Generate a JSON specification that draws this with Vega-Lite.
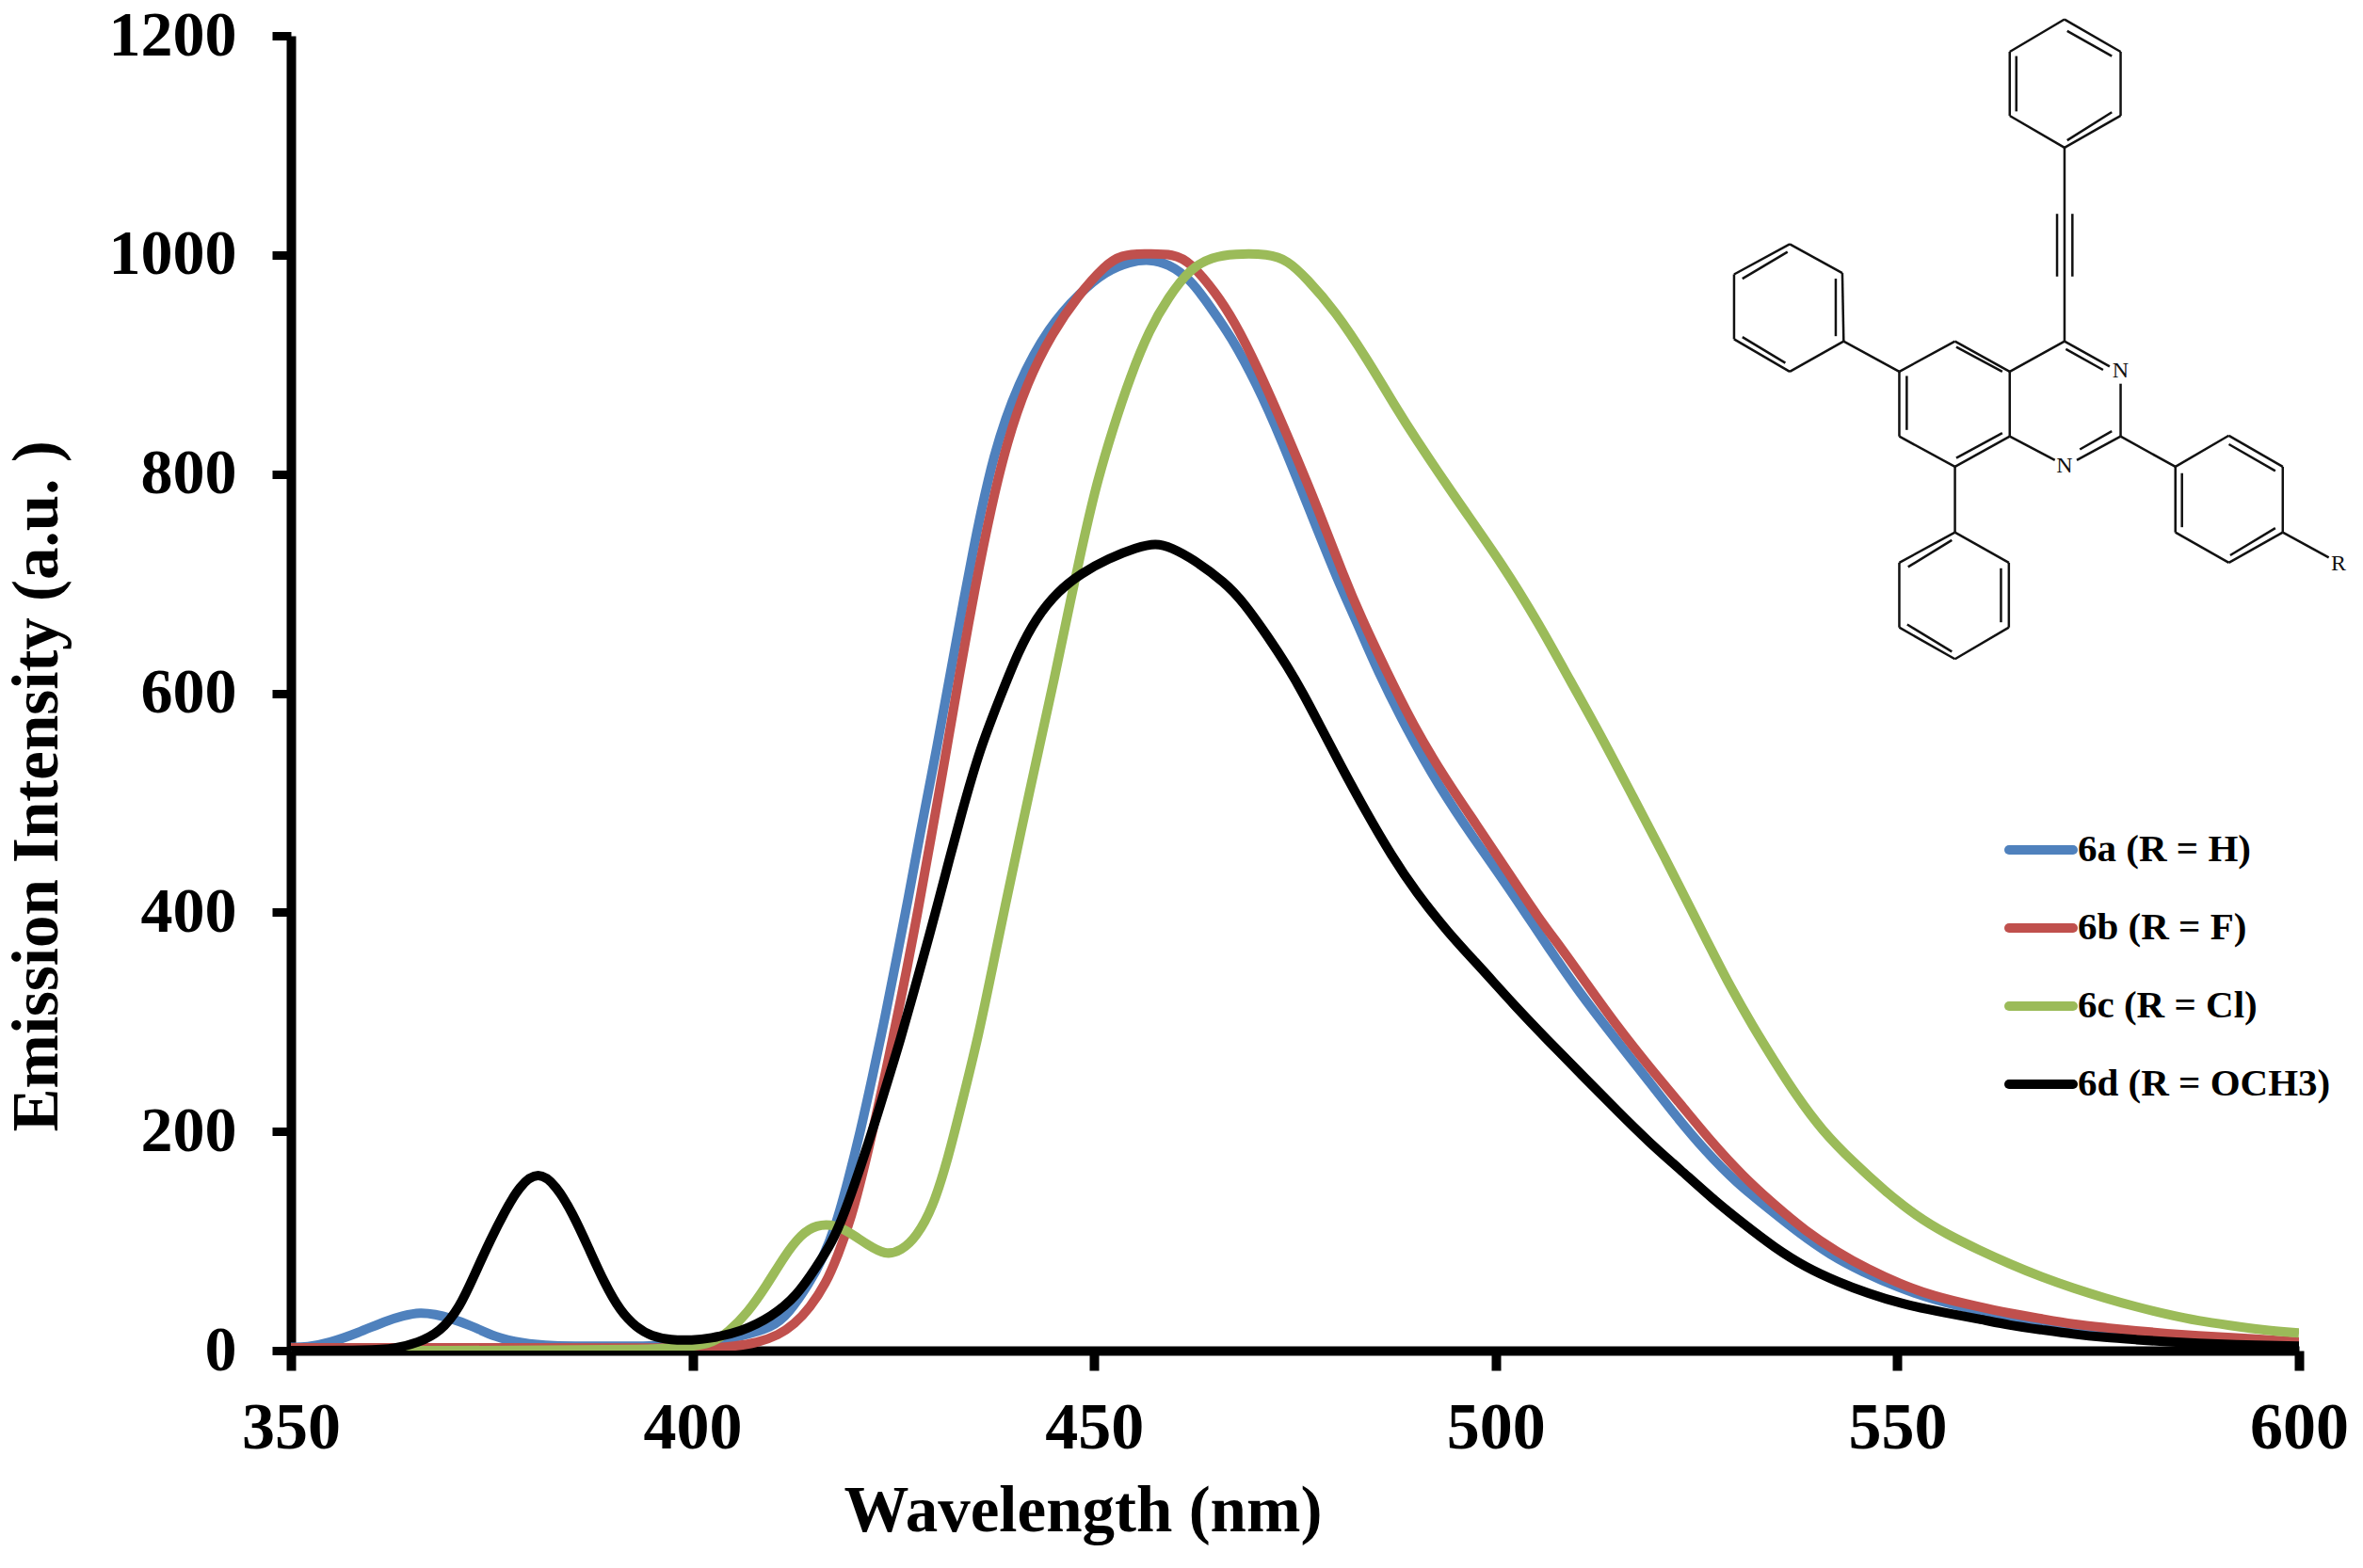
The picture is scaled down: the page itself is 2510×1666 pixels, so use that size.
{
  "$schema": "https://vega.github.io/schema/vega-lite/v6.json",
  "width": 2133,
  "height": 1397,
  "autosize": "none",
  "padding": {"left": 309, "top": 38, "right": 68, "bottom": 231},
  "background": "white",
  "config": {"view": {"stroke": "transparent"}, "font": "Liberation Serif"},
  "datasets": {
    "curves": [
      {"wavelength":350,"intensity":3,"series":"6a (R = H)"},{"wavelength":352,"intensity":3,"series":"6a (R = H)"},{"wavelength":354.8,"intensity":7,"series":"6a (R = H)"},{"wavelength":358.3,"intensity":16,"series":"6a (R = H)"},{"wavelength":361.8,"intensity":27,"series":"6a (R = H)"},{"wavelength":364,"intensity":32,"series":"6a (R = H)"},{"wavelength":366.1,"intensity":35,"series":"6a (R = H)"},{"wavelength":368,"intensity":33,"series":"6a (R = H)"},{"wavelength":369.7,"intensity":30,"series":"6a (R = H)"},{"wavelength":372.4,"intensity":23,"series":"6a (R = H)"},{"wavelength":375.5,"intensity":12,"series":"6a (R = H)"},{"wavelength":378.7,"intensity":7,"series":"6a (R = H)"},{"wavelength":382,"intensity":4,"series":"6a (R = H)"},{"wavelength":390,"intensity":4,"series":"6a (R = H)"},{"wavelength":395,"intensity":4,"series":"6a (R = H)"},{"wavelength":398,"intensity":6,"series":"6a (R = H)"},{"wavelength":402.1,"intensity":8,"series":"6a (R = H)"},{"wavelength":406,"intensity":13,"series":"6a (R = H)"},{"wavelength":409.9,"intensity":21,"series":"6a (R = H)"},{"wavelength":411.9,"intensity":33,"series":"6a (R = H)"},{"wavelength":414.6,"intensity":62,"series":"6a (R = H)"},{"wavelength":416.2,"intensity":84,"series":"6a (R = H)"},{"wavelength":417.8,"intensity":113,"series":"6a (R = H)"},{"wavelength":419.3,"intensity":153,"series":"6a (R = H)"},{"wavelength":420.9,"intensity":200,"series":"6a (R = H)"},{"wavelength":422.4,"intensity":250,"series":"6a (R = H)"},{"wavelength":424,"intensity":305,"series":"6a (R = H)"},{"wavelength":425.4,"intensity":358,"series":"6a (R = H)"},{"wavelength":426.8,"intensity":410,"series":"6a (R = H)"},{"wavelength":428.3,"intensity":471,"series":"6a (R = H)"},{"wavelength":430.3,"intensity":545,"series":"6a (R = H)"},{"wavelength":432,"intensity":614,"series":"6a (R = H)"},{"wavelength":435,"intensity":735,"series":"6a (R = H)"},{"wavelength":437.5,"intensity":820,"series":"6a (R = H)"},{"wavelength":440.5,"intensity":883,"series":"6a (R = H)"},{"wavelength":444.4,"intensity":935,"series":"6a (R = H)"},{"wavelength":448.3,"intensity":966,"series":"6a (R = H)"},{"wavelength":451.4,"intensity":985,"series":"6a (R = H)"},{"wavelength":454.5,"intensity":994,"series":"6a (R = H)"},{"wavelength":456.9,"intensity":996,"series":"6a (R = H)"},{"wavelength":459.2,"intensity":992,"series":"6a (R = H)"},{"wavelength":462,"intensity":978,"series":"6a (R = H)"},{"wavelength":464.7,"intensity":950,"series":"6a (R = H)"},{"wavelength":467,"intensity":926,"series":"6a (R = H)"},{"wavelength":470.2,"intensity":883,"series":"6a (R = H)"},{"wavelength":473.3,"intensity":832,"series":"6a (R = H)"},{"wavelength":477.2,"intensity":760,"series":"6a (R = H)"},{"wavelength":480.5,"intensity":700,"series":"6a (R = H)"},{"wavelength":482.7,"intensity":665,"series":"6a (R = H)"},{"wavelength":485.3,"intensity":620,"series":"6a (R = H)"},{"wavelength":489,"intensity":566,"series":"6a (R = H)"},{"wavelength":493,"intensity":514,"series":"6a (R = H)"},{"wavelength":497.2,"intensity":468,"series":"6a (R = H)"},{"wavelength":501.1,"intensity":428,"series":"6a (R = H)"},{"wavelength":505,"intensity":385,"series":"6a (R = H)"},{"wavelength":507.3,"intensity":360,"series":"6a (R = H)"},{"wavelength":510.4,"intensity":327,"series":"6a (R = H)"},{"wavelength":514.4,"intensity":289,"series":"6a (R = H)"},{"wavelength":518.3,"intensity":253,"series":"6a (R = H)"},{"wavelength":522.2,"intensity":216,"series":"6a (R = H)"},{"wavelength":526.1,"intensity":182,"series":"6a (R = H)"},{"wavelength":530,"intensity":153,"series":"6a (R = H)"},{"wavelength":533.9,"intensity":130,"series":"6a (R = H)"},{"wavelength":537.8,"intensity":107,"series":"6a (R = H)"},{"wavelength":541.7,"intensity":87,"series":"6a (R = H)"},{"wavelength":545.6,"intensity":72,"series":"6a (R = H)"},{"wavelength":550.3,"intensity":57,"series":"6a (R = H)"},{"wavelength":554.3,"intensity":47,"series":"6a (R = H)"},{"wavelength":560.1,"intensity":36,"series":"6a (R = H)"},{"wavelength":570,"intensity":23,"series":"6a (R = H)"},{"wavelength":580,"intensity":14,"series":"6a (R = H)"},{"wavelength":590,"intensity":9,"series":"6a (R = H)"},{"wavelength":600,"intensity":6,"series":"6a (R = H)"},

      {"wavelength":350,"intensity":2.5,"series":"6b (R = F)"},{"wavelength":375,"intensity":2.5,"series":"6b (R = F)"},{"wavelength":398,"intensity":2.5,"series":"6b (R = F)"},{"wavelength":402.1,"intensity":2,"series":"6b (R = F)"},{"wavelength":405.2,"intensity":4,"series":"6b (R = F)"},{"wavelength":408,"intensity":7,"series":"6b (R = F)"},{"wavelength":410.7,"intensity":14,"series":"6b (R = F)"},{"wavelength":412.7,"intensity":24,"series":"6b (R = F)"},{"wavelength":414.6,"intensity":39,"series":"6b (R = F)"},{"wavelength":416.6,"intensity":61,"series":"6b (R = F)"},{"wavelength":418.1,"intensity":87,"series":"6b (R = F)"},{"wavelength":419.7,"intensity":119,"series":"6b (R = F)"},{"wavelength":421.7,"intensity":176,"series":"6b (R = F)"},{"wavelength":423.6,"intensity":239,"series":"6b (R = F)"},{"wavelength":424.8,"intensity":280,"series":"6b (R = F)"},{"wavelength":426.8,"intensity":352,"series":"6b (R = F)"},{"wavelength":428.1,"intensity":403,"series":"6b (R = F)"},{"wavelength":429.7,"intensity":468,"series":"6b (R = F)"},{"wavelength":431.5,"intensity":543,"series":"6b (R = F)"},{"wavelength":433.1,"intensity":612,"series":"6b (R = F)"},{"wavelength":435.2,"intensity":698,"series":"6b (R = F)"},{"wavelength":437.25,"intensity":772,"series":"6b (R = F)"},{"wavelength":439.1,"intensity":828,"series":"6b (R = F)"},{"wavelength":441.6,"intensity":883,"series":"6b (R = F)"},{"wavelength":444.8,"intensity":929,"series":"6b (R = F)"},{"wavelength":447.9,"intensity":962,"series":"6b (R = F)"},{"wavelength":451.4,"intensity":991,"series":"6b (R = F)"},{"wavelength":453.4,"intensity":1000,"series":"6b (R = F)"},{"wavelength":456.1,"intensity":1001,"series":"6b (R = F)"},{"wavelength":460,"intensity":1001,"series":"6b (R = F)"},{"wavelength":462,"intensity":993,"series":"6b (R = F)"},{"wavelength":465.1,"intensity":966,"series":"6b (R = F)"},{"wavelength":467.4,"intensity":940,"series":"6b (R = F)"},{"wavelength":470.2,"intensity":900,"series":"6b (R = F)"},{"wavelength":474.1,"intensity":835,"series":"6b (R = F)"},{"wavelength":478,"intensity":766,"series":"6b (R = F)"},{"wavelength":481,"intensity":708,"series":"6b (R = F)"},{"wavelength":483.3,"intensity":668,"series":"6b (R = F)"},{"wavelength":486.4,"intensity":620,"series":"6b (R = F)"},{"wavelength":489.7,"intensity":571,"series":"6b (R = F)"},{"wavelength":493.6,"intensity":523,"series":"6b (R = F)"},{"wavelength":497.6,"intensity":480,"series":"6b (R = F)"},{"wavelength":501.5,"intensity":437,"series":"6b (R = F)"},{"wavelength":505.4,"intensity":394,"series":"6b (R = F)"},{"wavelength":508.1,"intensity":368,"series":"6b (R = F)"},{"wavelength":511.2,"intensity":336,"series":"6b (R = F)"},{"wavelength":515.1,"intensity":296,"series":"6b (R = F)"},{"wavelength":519.1,"intensity":259,"series":"6b (R = F)"},{"wavelength":523,"intensity":225,"series":"6b (R = F)"},{"wavelength":526.9,"intensity":190,"series":"6b (R = F)"},{"wavelength":530.8,"intensity":159,"series":"6b (R = F)"},{"wavelength":534.7,"intensity":133,"series":"6b (R = F)"},{"wavelength":538.6,"intensity":109,"series":"6b (R = F)"},{"wavelength":542.5,"intensity":90,"series":"6b (R = F)"},{"wavelength":546.4,"intensity":74,"series":"6b (R = F)"},{"wavelength":550.3,"intensity":61,"series":"6b (R = F)"},{"wavelength":554.3,"intensity":50,"series":"6b (R = F)"},{"wavelength":560.1,"intensity":40,"series":"6b (R = F)"},{"wavelength":564,"intensity":34,"series":"6b (R = F)"},{"wavelength":568,"intensity":29,"series":"6b (R = F)"},{"wavelength":571.9,"intensity":24,"series":"6b (R = F)"},{"wavelength":575.8,"intensity":21,"series":"6b (R = F)"},{"wavelength":579.7,"intensity":18,"series":"6b (R = F)"},{"wavelength":583.6,"intensity":15.5,"series":"6b (R = F)"},{"wavelength":587.5,"intensity":13.5,"series":"6b (R = F)"},{"wavelength":591.4,"intensity":12,"series":"6b (R = F)"},{"wavelength":600,"intensity":8,"series":"6b (R = F)"},

      {"wavelength":350,"intensity":0,"series":"6c (R = Cl)"},{"wavelength":380,"intensity":0,"series":"6c (R = Cl)"},{"wavelength":395,"intensity":1,"series":"6c (R = Cl)"},{"wavelength":398.2,"intensity":3,"series":"6c (R = Cl)"},{"wavelength":402.1,"intensity":5,"series":"6c (R = Cl)"},{"wavelength":404.5,"intensity":17,"series":"6c (R = Cl)"},{"wavelength":406.8,"intensity":34,"series":"6c (R = Cl)"},{"wavelength":409.2,"intensity":59,"series":"6c (R = Cl)"},{"wavelength":411.5,"intensity":87,"series":"6c (R = Cl)"},{"wavelength":413.5,"intensity":106,"series":"6c (R = Cl)"},{"wavelength":415.4,"intensity":115,"series":"6c (R = Cl)"},{"wavelength":417.8,"intensity":115,"series":"6c (R = Cl)"},{"wavelength":419.7,"intensity":107,"series":"6c (R = Cl)"},{"wavelength":421.7,"intensity":97,"series":"6c (R = Cl)"},{"wavelength":424,"intensity":87,"series":"6c (R = Cl)"},{"wavelength":426,"intensity":91,"series":"6c (R = Cl)"},{"wavelength":427.9,"intensity":104,"series":"6c (R = Cl)"},{"wavelength":429.9,"intensity":130,"series":"6c (R = Cl)"},{"wavelength":431.8,"intensity":175,"series":"6c (R = Cl)"},{"wavelength":433.4,"intensity":222,"series":"6c (R = Cl)"},{"wavelength":435.6,"intensity":287,"series":"6c (R = Cl)"},{"wavelength":437.3,"intensity":348,"series":"6c (R = Cl)"},{"wavelength":438.9,"intensity":405,"series":"6c (R = Cl)"},{"wavelength":440.8,"intensity":471,"series":"6c (R = Cl)"},{"wavelength":443.2,"intensity":552,"series":"6c (R = Cl)"},{"wavelength":445.1,"intensity":615,"series":"6c (R = Cl)"},{"wavelength":446.7,"intensity":672,"series":"6c (R = Cl)"},{"wavelength":448.3,"intensity":727,"series":"6c (R = Cl)"},{"wavelength":450.2,"intensity":789,"series":"6c (R = Cl)"},{"wavelength":452.4,"intensity":843,"series":"6c (R = Cl)"},{"wavelength":454.5,"intensity":889,"series":"6c (R = Cl)"},{"wavelength":456.9,"intensity":932,"series":"6c (R = Cl)"},{"wavelength":459.2,"intensity":961,"series":"6c (R = Cl)"},{"wavelength":462,"intensity":988,"series":"6c (R = Cl)"},{"wavelength":464.7,"intensity":998,"series":"6c (R = Cl)"},{"wavelength":467.4,"intensity":1001,"series":"6c (R = Cl)"},{"wavelength":471.7,"intensity":1001,"series":"6c (R = Cl)"},{"wavelength":474.1,"intensity":995,"series":"6c (R = Cl)"},{"wavelength":476.4,"intensity":979,"series":"6c (R = Cl)"},{"wavelength":480,"intensity":949,"series":"6c (R = Cl)"},{"wavelength":483.9,"intensity":906,"series":"6c (R = Cl)"},{"wavelength":487.8,"intensity":858,"series":"6c (R = Cl)"},{"wavelength":489.7,"intensity":836,"series":"6c (R = Cl)"},{"wavelength":495,"intensity":778,"series":"6c (R = Cl)"},{"wavelength":500.9,"intensity":717,"series":"6c (R = Cl)"},{"wavelength":505.4,"intensity":663,"series":"6c (R = Cl)"},{"wavelength":509.3,"intensity":611,"series":"6c (R = Cl)"},{"wavelength":513.2,"intensity":560,"series":"6c (R = Cl)"},{"wavelength":517.1,"intensity":505,"series":"6c (R = Cl)"},{"wavelength":521,"intensity":451,"series":"6c (R = Cl)"},{"wavelength":524.9,"intensity":394,"series":"6c (R = Cl)"},{"wavelength":526.7,"intensity":368,"series":"6c (R = Cl)"},{"wavelength":529.2,"intensity":332,"series":"6c (R = Cl)"},{"wavelength":532,"intensity":296,"series":"6c (R = Cl)"},{"wavelength":534.7,"intensity":264,"series":"6c (R = Cl)"},{"wavelength":537.4,"intensity":233,"series":"6c (R = Cl)"},{"wavelength":540.6,"intensity":201,"series":"6c (R = Cl)"},{"wavelength":544.5,"intensity":172,"series":"6c (R = Cl)"},{"wavelength":548.4,"intensity":146,"series":"6c (R = Cl)"},{"wavelength":552.3,"intensity":123,"series":"6c (R = Cl)"},{"wavelength":556.2,"intensity":106,"series":"6c (R = Cl)"},{"wavelength":560.1,"intensity":92,"series":"6c (R = Cl)"},{"wavelength":564,"intensity":79,"series":"6c (R = Cl)"},{"wavelength":568,"intensity":67,"series":"6c (R = Cl)"},{"wavelength":571.9,"intensity":57,"series":"6c (R = Cl)"},{"wavelength":575.8,"intensity":48,"series":"6c (R = Cl)"},{"wavelength":579.7,"intensity":40,"series":"6c (R = Cl)"},{"wavelength":583.6,"intensity":33,"series":"6c (R = Cl)"},{"wavelength":587.5,"intensity":27,"series":"6c (R = Cl)"},{"wavelength":591.4,"intensity":23,"series":"6c (R = Cl)"},{"wavelength":595.3,"intensity":19,"series":"6c (R = Cl)"},{"wavelength":600,"intensity":16,"series":"6c (R = Cl)"},

      {"wavelength":350,"intensity":0,"series":"6d (R = OCH3)"},{"wavelength":360,"intensity":0,"series":"6d (R = OCH3)"},{"wavelength":363,"intensity":2,"series":"6d (R = OCH3)"},{"wavelength":365.8,"intensity":7,"series":"6d (R = OCH3)"},{"wavelength":368.6,"intensity":17,"series":"6d (R = OCH3)"},{"wavelength":371,"intensity":39,"series":"6d (R = OCH3)"},{"wavelength":372.9,"intensity":70,"series":"6d (R = OCH3)"},{"wavelength":374.9,"intensity":102,"series":"6d (R = OCH3)"},{"wavelength":376.5,"intensity":125,"series":"6d (R = OCH3)"},{"wavelength":378.5,"intensity":151,"series":"6d (R = OCH3)"},{"wavelength":380.8,"intensity":164,"series":"6d (R = OCH3)"},{"wavelength":383,"intensity":151,"series":"6d (R = OCH3)"},{"wavelength":385.1,"intensity":125,"series":"6d (R = OCH3)"},{"wavelength":387.1,"intensity":93,"series":"6d (R = OCH3)"},{"wavelength":389,"intensity":62,"series":"6d (R = OCH3)"},{"wavelength":391,"intensity":36,"series":"6d (R = OCH3)"},{"wavelength":393,"intensity":21,"series":"6d (R = OCH3)"},{"wavelength":394.9,"intensity":13,"series":"6d (R = OCH3)"},{"wavelength":397.3,"intensity":9.5,"series":"6d (R = OCH3)"},{"wavelength":400,"intensity":9.5,"series":"6d (R = OCH3)"},{"wavelength":402.1,"intensity":11,"series":"6d (R = OCH3)"},{"wavelength":406,"intensity":17,"series":"6d (R = OCH3)"},{"wavelength":409.9,"intensity":31,"series":"6d (R = OCH3)"},{"wavelength":413,"intensity":50,"series":"6d (R = OCH3)"},{"wavelength":415.4,"intensity":76,"series":"6d (R = OCH3)"},{"wavelength":417.4,"intensity":99,"series":"6d (R = OCH3)"},{"wavelength":418.9,"intensity":125,"series":"6d (R = OCH3)"},{"wavelength":420.9,"intensity":167,"series":"6d (R = OCH3)"},{"wavelength":422.8,"intensity":210,"series":"6d (R = OCH3)"},{"wavelength":424.8,"intensity":258,"series":"6d (R = OCH3)"},{"wavelength":425.8,"intensity":282,"series":"6d (R = OCH3)"},{"wavelength":427.5,"intensity":326,"series":"6d (R = OCH3)"},{"wavelength":429.5,"intensity":379,"series":"6d (R = OCH3)"},{"wavelength":431.5,"intensity":435,"series":"6d (R = OCH3)"},{"wavelength":433.4,"intensity":488,"series":"6d (R = OCH3)"},{"wavelength":435.8,"intensity":550,"series":"6d (R = OCH3)"},{"wavelength":438.5,"intensity":600,"series":"6d (R = OCH3)"},{"wavelength":440.5,"intensity":637,"series":"6d (R = OCH3)"},{"wavelength":442.8,"intensity":669,"series":"6d (R = OCH3)"},{"wavelength":445.5,"intensity":693,"series":"6d (R = OCH3)"},{"wavelength":448.3,"intensity":709,"series":"6d (R = OCH3)"},{"wavelength":451.8,"intensity":723,"series":"6d (R = OCH3)"},{"wavelength":455.3,"intensity":733,"series":"6d (R = OCH3)"},{"wavelength":457.7,"intensity":737,"series":"6d (R = OCH3)"},{"wavelength":459.6,"intensity":733,"series":"6d (R = OCH3)"},{"wavelength":462.4,"intensity":722,"series":"6d (R = OCH3)"},{"wavelength":466.3,"intensity":701,"series":"6d (R = OCH3)"},{"wavelength":468.6,"intensity":683,"series":"6d (R = OCH3)"},{"wavelength":471.7,"intensity":651,"series":"6d (R = OCH3)"},{"wavelength":474.1,"intensity":624,"series":"6d (R = OCH3)"},{"wavelength":476,"intensity":600,"series":"6d (R = OCH3)"},{"wavelength":478,"intensity":572,"series":"6d (R = OCH3)"},{"wavelength":480.7,"intensity":534,"series":"6d (R = OCH3)"},{"wavelength":483.9,"intensity":491,"series":"6d (R = OCH3)"},{"wavelength":487,"intensity":452,"series":"6d (R = OCH3)"},{"wavelength":490.1,"intensity":418,"series":"6d (R = OCH3)"},{"wavelength":494,"intensity":382,"series":"6d (R = OCH3)"},{"wavelength":498.3,"intensity":348,"series":"6d (R = OCH3)"},{"wavelength":502.2,"intensity":316,"series":"6d (R = OCH3)"},{"wavelength":506.5,"intensity":283,"series":"6d (R = OCH3)"},{"wavelength":511.2,"intensity":248,"series":"6d (R = OCH3)"},{"wavelength":515.1,"intensity":219,"series":"6d (R = OCH3)"},{"wavelength":519.1,"intensity":190,"series":"6d (R = OCH3)"},{"wavelength":523,"intensity":165,"series":"6d (R = OCH3)"},{"wavelength":526.9,"intensity":139,"series":"6d (R = OCH3)"},{"wavelength":530.8,"intensity":116,"series":"6d (R = OCH3)"},{"wavelength":534.7,"intensity":94,"series":"6d (R = OCH3)"},{"wavelength":538.6,"intensity":76,"series":"6d (R = OCH3)"},{"wavelength":542.5,"intensity":63,"series":"6d (R = OCH3)"},{"wavelength":546.4,"intensity":52,"series":"6d (R = OCH3)"},{"wavelength":550.3,"intensity":43,"series":"6d (R = OCH3)"},{"wavelength":556.2,"intensity":34,"series":"6d (R = OCH3)"},{"wavelength":560.1,"intensity":29,"series":"6d (R = OCH3)"},{"wavelength":564,"intensity":23,"series":"6d (R = OCH3)"},{"wavelength":568,"intensity":19,"series":"6d (R = OCH3)"},{"wavelength":571.9,"intensity":15,"series":"6d (R = OCH3)"},{"wavelength":575.8,"intensity":12,"series":"6d (R = OCH3)"},{"wavelength":579.7,"intensity":10,"series":"6d (R = OCH3)"},{"wavelength":583.6,"intensity":8,"series":"6d (R = OCH3)"},{"wavelength":587.5,"intensity":6.6,"series":"6d (R = OCH3)"},{"wavelength":591.4,"intensity":5.5,"series":"6d (R = OCH3)"},{"wavelength":600,"intensity":4,"series":"6d (R = OCH3)"}
    ],
    "bonds": [
      {"ax":887,"ay":45,"bx":1015,"by":120},{"ax":1015,"ay":120,"bx":1015,"by":268},{"ax":1015,"ay":268,"bx":887,"by":342},{"ax":887,"ay":342,"bx":762,"by":268},{"ax":762,"ay":268,"bx":762,"by":120},{"ax":762,"ay":120,"bx":887,"by":45},
      {"ax":893,"ay":72,"bx":995,"by":130},{"ax":777,"ay":130,"bx":777,"by":258},{"ax":893,"ay":325,"bx":995,"by":260},
      {"ax":887,"ay":342,"bx":887,"by":790},{"ax":870,"ay":495,"bx":870,"by":640},{"ax":905,"ay":495,"bx":905,"by":640},
      {"ax":887,"ay":790,"bx":990,"by":848},{"ax":890,"ay":808,"bx":975,"by":856},{"ax":1015,"ay":888,"bx":1015,"by":1010},{"ax":1015,"ay":1010,"bx":915,"by":1065},{"ax":995,"ay":998,"bx":922,"by":1040},{"ax":865,"ay":1065,"bx":762,"by":1010},{"ax":762,"ay":1010,"bx":762,"by":860},{"ax":762,"ay":860,"bx":887,"by":790},
      {"ax":762,"ay":860,"bx":637,"by":790},{"ax":745,"ay":860,"bx":640,"by":803},{"ax":637,"ay":790,"bx":510,"by":860},{"ax":510,"ay":860,"bx":510,"by":1010},{"ax":527,"ay":870,"bx":527,"by":995},{"ax":510,"ay":1010,"bx":637,"by":1080},{"ax":637,"ay":1080,"bx":762,"by":1010},{"ax":640,"ay":1060,"bx":745,"by":1002},
      {"ax":510,"ay":860,"bx":383,"by":790},{"ax":383,"ay":790,"bx":380,"by":632},{"ax":380,"ay":632,"bx":260,"by":565},{"ax":260,"ay":565,"bx":133,"by":635},{"ax":133,"ay":635,"bx":133,"by":785},{"ax":133,"ay":785,"bx":260,"by":860},{"ax":260,"ay":860,"bx":383,"by":790},
      {"ax":365,"ay":645,"bx":365,"by":778},{"ax":255,"ay":583,"bx":152,"by":645},{"ax":152,"ay":780,"bx":250,"by":840},
      {"ax":637,"ay":1080,"bx":637,"by":1232},{"ax":637,"ay":1232,"bx":760,"by":1302},{"ax":760,"ay":1302,"bx":760,"by":1452},{"ax":760,"ay":1452,"bx":637,"by":1525},{"ax":637,"ay":1525,"bx":510,"by":1452},{"ax":510,"ay":1452,"bx":510,"by":1302},{"ax":510,"ay":1302,"bx":637,"by":1232},
      {"ax":630,"ay":1250,"bx":530,"by":1312},{"ax":742,"ay":1315,"bx":742,"by":1440},{"ax":630,"ay":1508,"bx":528,"by":1445},
      {"ax":1015,"ay":1010,"bx":1140,"by":1080},{"ax":1140,"ay":1080,"bx":1262,"by":1008},{"ax":1262,"ay":1008,"bx":1385,"by":1080},{"ax":1385,"ay":1080,"bx":1385,"by":1232},{"ax":1385,"ay":1232,"bx":1262,"by":1302},{"ax":1262,"ay":1302,"bx":1140,"by":1232},{"ax":1140,"ay":1232,"bx":1140,"by":1080},
      {"ax":1262,"ay":1028,"bx":1368,"by":1090},{"ax":1155,"ay":1095,"bx":1155,"by":1220},{"ax":1368,"ay":1222,"bx":1265,"by":1285},
      {"ax":1385,"ay":1232,"bx":1490,"by":1290}
    ],
    "atoms": [
      {"ax":1015,"ay":858,"label":"N"},
      {"ax":887,"ay":1078,"label":"N"},
      {"ax":1512,"ay":1305,"label":"R"}
    ]
  },
  "layer": [
    {
      "data": {"name": "curves"},
      "mark": {"type": "line", "interpolate": "basis", "clip": true},
      "encoding": {
        "x": {
          "field": "wavelength",
          "type": "quantitative",
          "scale": {"domain": [350, 600], "nice": false, "zero": false},
          "axis": {
            "values": [350, 400, 450, 500, 550, 600],
            "format": "d",
            "grid": false,
            "domainColor": "black",
            "domainWidth": 10,
            "tickColor": "black",
            "tickWidth": 10,
            "tickSize": 21,
            "labelFont": "Liberation Serif",
            "labelFontWeight": "bold",
            "labelFontSize": 70,
            "labelColor": "black",
            "labelPadding": 27,
            "labelFlush": false,
            "labelOverlap": false,
            "title": "Wavelength (nm)",
            "titleFont": "Liberation Serif",
            "titleFontWeight": "bold",
            "titleFontSize": 69,
            "titleColor": "black",
            "titleX": 841,
            "titleY": 191,
            "titleAlign": "center",
            "titleBaseline": "alphabetic"
          }
        },
        "y": {
          "field": "intensity",
          "type": "quantitative",
          "scale": {"domain": [0, 1200], "nice": false},
          "axis": {
            "values": [0, 200, 400, 600, 800, 1000, 1200],
            "format": "d",
            "grid": false,
            "domainColor": "black",
            "domainWidth": 10,
            "tickColor": "black",
            "tickWidth": 9,
            "tickSize": 20,
            "labelFont": "Liberation Serif",
            "labelFontWeight": "bold",
            "labelFontSize": 68,
            "labelColor": "black",
            "labelPadding": 38,
            "labelFlush": false,
            "labelOverlap": false,
            "title": "Emission Intensity (a.u. )",
            "titleFont": "Liberation Serif",
            "titleFontWeight": "bold",
            "titleFontSize": 69,
            "titleColor": "black",
            "titleX": -249,
            "titleY": 797,
            "titleAlign": "center",
            "titleBaseline": "alphabetic",
            "titleAngle": -90
          }
        },
        "strokeWidth": {
          "field": "series",
          "type": "nominal",
          "scale": {
            "domain": ["6a (R = H)", "6b (R = F)", "6c (R = Cl)", "6d (R = OCH3)"],
            "range": [10, 10, 9, 8]
          },
          "legend": null
        },
        "color": {
          "field": "series",
          "type": "nominal",
          "scale": {
            "domain": ["6a (R = H)", "6b (R = F)", "6c (R = Cl)", "6d (R = OCH3)"],
            "range": ["#4F81BD", "#C0504D", "#9BBB59", "#000000"]
          },
          "legend": {
            "orient": "none",
            "legendX": 1820,
            "legendY": 826,
            "padding": 0,
            "title": null,
            "symbolType": "stroke",
            "symbolSize": 4624,
            "symbolStrokeWidth": 10,
            "labelFont": "Liberation Serif",
            "labelFontWeight": "bold",
            "labelFontSize": 41,
            "labelColor": "black",
            "labelOffset": 0,
            "labelLimit": 400,
            "rowPadding": 24,
            "encode": {"symbols": {"update": {"strokeCap": {"value": "round"}}}}
          }
        }
      }
    },
    {
      "data": {"name": "bonds"},
      "mark": {"type": "rule", "color": "#111111", "strokeWidth": 2.5},
      "encoding": {
        "x": {"field": "ax", "type": "quantitative", "scale": {"domain": [-3160, 1422], "nice": false, "zero": false}, "axis": null},
        "x2": {"field": "bx"},
        "y": {"field": "ay", "type": "quantitative", "scale": {"domain": [3125, 83], "nice": false, "zero": false}, "axis": null},
        "y2": {"field": "by"}
      }
    },
    {
      "data": {"name": "atoms"},
      "mark": {"type": "text", "font": "Liberation Serif", "fontSize": 24, "color": "#111111", "align": "center", "baseline": "middle"},
      "encoding": {
        "x": {"field": "ax", "type": "quantitative", "scale": {"domain": [-3160, 1422], "nice": false, "zero": false}, "axis": null},
        "y": {"field": "ay", "type": "quantitative", "scale": {"domain": [3125, 83], "nice": false, "zero": false}, "axis": null},
        "text": {"field": "label"}
      }
    }
  ],
  "resolve": {"scale": {"x": "independent", "y": "independent"}}
}
